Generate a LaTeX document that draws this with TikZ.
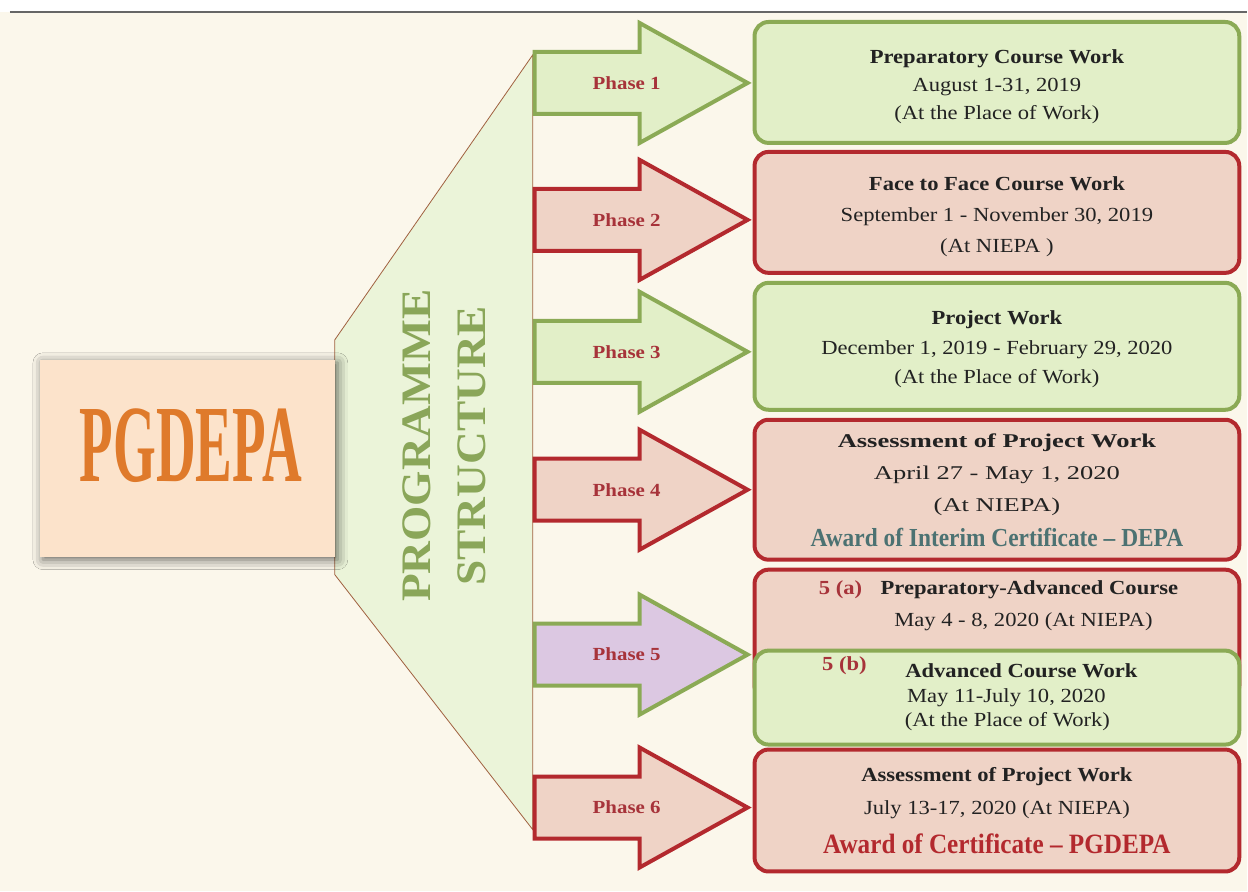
\documentclass[tikz,border=0pt]{standalone}
\usepackage{fontspec}
\setmainfont{Liberation Serif}[FakeStretch=1.13]
\newfontfamily\widefont{Liberation Serif}[FakeStretch=1.36]
\newfontfamily\narrowfont{Liberation Serif}[FakeStretch=0.9]
\newfontfamily\tallfont{Liberation Serif}[FakeStretch=0.5]
\newfontfamily\bannerfont{Liberation Serif}[FakeStretch=1.08]
\usetikzlibrary{shadows.blur}
\definecolor{cream}{HTML}{FBF7EB}
\definecolor{peach}{HTML}{FCE3CB}
\definecolor{pgorange}{HTML}{DF7A2B}
\definecolor{trapfill}{HTML}{EBF4D9}
\definecolor{trapline}{HTML}{A0603F}
\definecolor{gline}{HTML}{8BAA55}
\definecolor{gfill}{HTML}{E2EFC8}
\definecolor{rline}{HTML}{B3292E}
\definecolor{rfill}{HTML}{EFD3C6}
\definecolor{pfill}{HTML}{DCC8E2}
\definecolor{phred}{HTML}{A7333A}
\definecolor{progreen}{HTML}{8AA659}
\definecolor{slate}{HTML}{4C7272}
\definecolor{ink}{HTML}{222222}
\tikzset{
	gbox/.style={draw=gline,fill=gfill,line width=4pt,rounded corners=14pt,minimum width=485pt,align=center,text=ink,inner sep=0pt},
	rbox/.style={gbox,draw=rline,fill=rfill},
	phase/.style={text=phred,font=\bfseries\fontsize{18.5}{22}\selectfont},
	line/.style={text=ink,font=\fontsize{20}{24}\selectfont},
}
\begin{document}
\begin{tikzpicture}[x=1pt,y=-1pt]
		\fill[cream] (0,0) rectangle (1248,892);
		\fill[white] (0,0) rectangle (1248,12);
		\draw[black!60,line width=1.5pt] (10,12)--(1248,12);
		\draw[fill=trapfill,draw=trapline,line width=0.8pt] (533,55)--(335,340)--(335,575)--(533,830)--cycle;
		\node[fill=peach,minimum width=295pt,minimum height=197pt,blur shadow={shadow xshift=3pt,shadow yshift=-3pt,shadow blur radius=10pt,shadow opacity=60}] (pgbox) at (187.5,458.5){};
		\node[text=pgorange,font=\tallfont\bfseries\fontsize{110}{110}\selectfont] (pgtext) at (191,446){PGDEPA};
		\node[rotate=90,align=center,text=progreen,font=\bannerfont\bfseries\fontsize{42}{55}\selectfont] (banner) at (444.5,446){PROGRAMME\\STRUCTURE};
		\foreach \y/\bc/\fc/\n in {83/gline/gfill/1,220/rline/rfill/2,352/gline/gfill/3,490/rline/rfill/4,655/gline/pfill/5,808/rline/rfill/6}{
			\draw[draw=\bc,fill=\fc,line width=4pt,line join=miter] (535,\y-31)--(640,\y-31)--(640,\y-60)--(748,\y)--(640,\y+60)--(640,\y+31)--(535,\y+31)--cycle;
			\node[phase] (ph\n) at (627,\y){Phase \n};
		}
		\node[gbox,minimum height=121pt,text height=78pt,font=\fontsize{20}{28}\selectfont] (box1) at (997.5,82.5){\textbf{Preparatory Course Work}\\August 1-31, 2019\\(At the Place of Work)};
		\node[rbox,minimum height=121pt,text height=84pt,font=\fontsize{20}{31}\selectfont] (box2) at (997.5,212.5){\textbf{Face to Face Course Work}\\September 1 - November 30, 2019\\(At NIEPA )};
		\node[gbox,minimum height=127pt,text height=79pt,font=\fontsize{20}{29.5}\selectfont] (box3) at (997.5,346.5){\textbf{Project Work}\\December 1, 2019 - February 29, 2020\\(At the Place of Work)};
		\node[rbox,minimum height=140pt,text height=114pt,font=\widefont\fontsize{19.5}{32}\selectfont] (box4) at (997.5,490){\textbf{Assessment of Project Work}\\April 27 - May 1, 2020\\(At NIEPA)\\[3pt]{\narrowfont\bfseries\fontsize{26}{30}\selectfont\color{slate}Award of Interim Certificate \textendash{} DEPA}};
		\node[rbox,minimum height=130pt] (box5a) at (997.5,635){};
		\node[gbox,minimum height=94pt] (box5b) at (997.5,698){};
		\node[phase,font=\bfseries\fontsize{20}{24}\selectfont] (tag5a) at (841,590){5 (a)};
		\node[line,font=\bfseries\fontsize{20}{24}\selectfont] (title5a) at (1030,590){Preparatory-Advanced Course};
		\node[line] (date5a) at (1024,622){May 4 - 8, 2020 (At NIEPA)};
		\node[phase,font=\bfseries\fontsize{20}{24}\selectfont] (tag5b) at (845,666){5 (b)};
		\node[line,font=\bfseries\fontsize{20}{24}\selectfont] (title5b) at (1022,671){Advanced Course Work};
		\node[line] (date5b) at (1007,698){May 11-July 10, 2020};
		\node[line] (place5b) at (1008,722){(At the Place of Work)};
		\node[rbox,minimum height=122pt,font=\fontsize{20}{33}\selectfont] (box6) at (997.5,811){\textbf{Assessment of Project Work}\\July 13-17, 2020 (At NIEPA)\\[6pt]{\narrowfont\bfseries\fontsize{28}{30}\selectfont\color{rline}Award of Certificate \textendash{} PGDEPA}};
	\end{tikzpicture}
\end{document}
